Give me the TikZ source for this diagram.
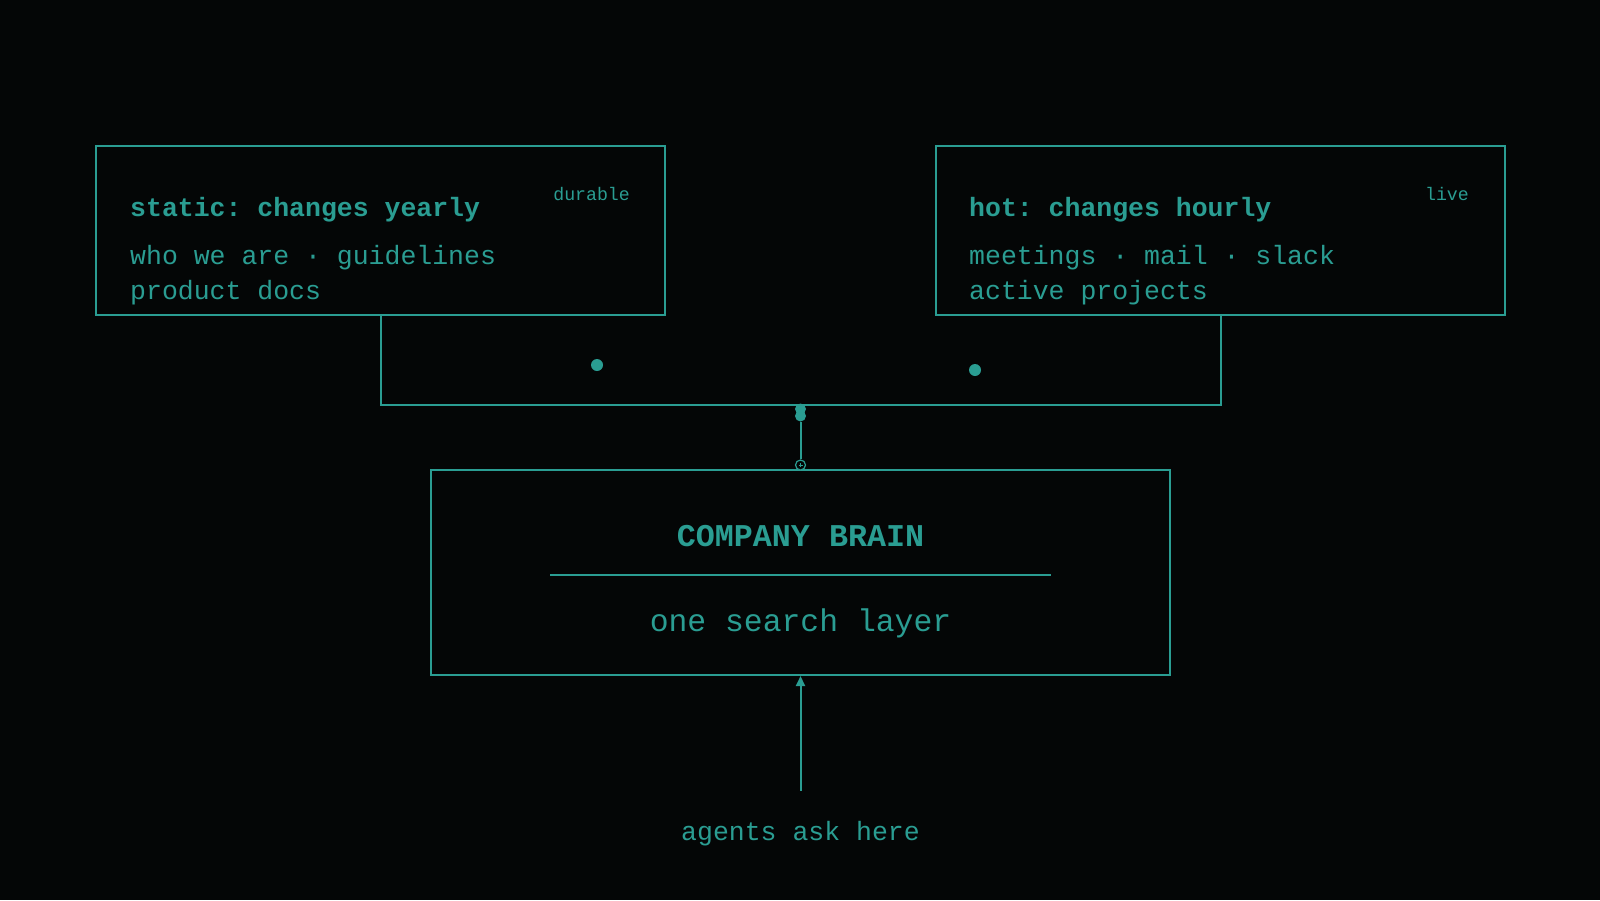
\documentclass[tikz,border=0pt]{standalone}
\usepackage{fontspec}
\setmonofont{Liberation Mono}
\usetikzlibrary{arrows.meta}
\definecolor{teal}{HTML}{2A9D92}
\definecolor{bg}{HTML}{040606}
\tikzset{
  srcbox/.style={draw=teal, line width=2pt, minimum width=569pt, minimum height=169pt, inner sep=0pt},
  brainbox/.style={draw=teal, line width=2pt, minimum width=739pt, minimum height=205pt, inner sep=0pt},
  headtxt/.style={text=teal, inner sep=0pt, anchor=base west, font=\ttfamily\bfseries\fontsize{26.5}{30}\selectfont},
  bodytxt/.style={text=teal, inner sep=0pt, anchor=base west, font=\ttfamily\fontsize{26.5}{30}\selectfont},
  tagtxt/.style={text=teal, inner sep=0pt, anchor=base east, font=\ttfamily\fontsize{18.2}{20}\selectfont},
  wire/.style={draw=teal, line width=2pt},
  dotmark/.style={circle, fill=teal, inner sep=0pt, minimum size=12pt},
  jdot/.style={circle, fill=teal, inner sep=0pt, minimum size=11pt},
}
\begin{document}
\begin{tikzpicture}[x=1pt,y=-1pt]
\fill[bg] (0,0) rectangle (1600,900);
\useasboundingbox (0,0) rectangle (1600,900);

% source boxes
\node[srcbox] (sA) at (380.5,230.5) {};
\node[srcbox] (sB) at (1220.5,230.5) {};

\node[headtxt] (sAh) at (130,216) {static: changes yearly};
\node[bodytxt] (sA1) at (130,264) {who we are · guidelines};
\node[bodytxt] (sA2) at (130,299) {product docs};
\node[tagtxt] (sAt) at (630,200) {durable};

\node[headtxt] (sBh) at (969,216) {hot: changes hourly};
\node[bodytxt] (sB1) at (969,264) {meetings · mail · slack};
\node[bodytxt] (sB2) at (969,299) {active projects};
\node[tagtxt] (sBt) at (1469,200) {live};

% loose dots
\node[dotmark] (d1) at (597,365) {};
\node[dotmark] (d2) at (975,370) {};

% brain
\node[brainbox] (brain) at (800.5,572.5) {};
\node[text=teal, inner sep=0pt, anchor=base, font=\ttfamily\bfseries\fontsize{31.7}{34}\selectfont] (bt) at (800.5,546) {COMPANY BRAIN};
\coordinate (sepL) at (550,575);
\coordinate (sepR) at (1051,575);
\draw[draw=teal, line width=1.2pt] (sepL) -- (sepR);
\node[text=teal, inner sep=0pt, anchor=base, font=\ttfamily\fontsize{31.4}{34}\selectfont] (bs) at (800.5,631) {one search layer};

% merge connector
\coordinate (j) at (800.5,405);
\draw[wire] (sA.south) |- (j);
\draw[wire] (sB.south) |- (j);
\node[jdot] (j1) at (800.5,409) {};
\node[jdot] (j2) at (800.5,416) {};
\node[circle, draw=teal, line width=1.2pt, inner sep=0pt, minimum size=10pt, fill=bg] (jc) at (800.5,465) {};
\draw[teal, line width=0.8pt] ([xshift=-2pt]jc.center) -- ([xshift=2pt]jc.center) ([yshift=-2pt]jc.center) -- ([yshift=2pt]jc.center);
\draw[wire] (j2) -- (jc);

% query arrow
\node[text=teal, inner sep=0pt, anchor=base, font=\ttfamily\fontsize{26.5}{30}\selectfont] (ask) at (800.5,840) {agents ask here};
\coordinate (askTop) at (800.5,791);
\draw[wire, -{Triangle[length=10pt, width=9pt]}] (askTop) -- (brain.south);
\end{tikzpicture}
\end{document}
